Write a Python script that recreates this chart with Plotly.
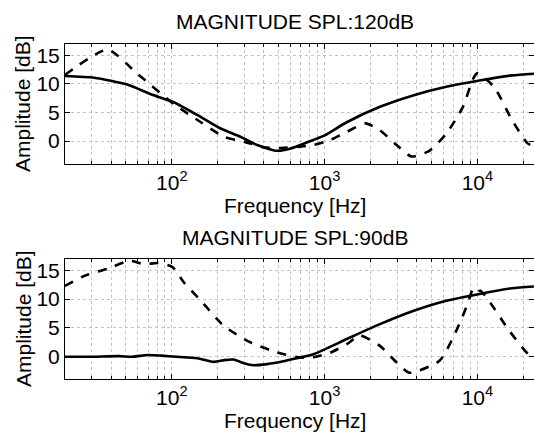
import numpy as np
import plotly.graph_objects as go
from plotly.subplots import make_subplots

# values (frequency in Hz, amplitude in dB)
f_top_solid = [20, 31, 51, 73, 103, 155, 209, 281, 362, 488, 600, 845, 1000, 1396, 2300, 3790, 6250, 10300, 16800, 23400]
a_top_solid = [11.4, 11.1, 9.9, 8.2, 6.8, 4.2, 2.2, 0.75, -0.7, -1.7, -1.3, 0.2, 1.0, 3.3, 6.0, 8.0, 9.5, 10.6, 11.5, 11.8]

f_top_dash = [20, 38, 60, 103, 155, 219, 296, 400, 513, 845, 1086, 1396, 1850, 2300, 2960, 3700, 4850, 6250, 8000, 9400, 10000, 12900, 16900, 21300, 23400]
a_top_dash = [11.6, 16.0, 11.7, 6.5, 3.3, 0.75, -0.1, -1.1, -1.2, -0.7, 0.2, 1.6, 3.1, 1.9, -0.7, -2.7, -1.7, 1.3, 5.9, 11.0, 11.9, 9.4, 3.6, -0.4, -0.9]

f_bot_solid = [20, 30, 45, 55, 70, 85, 120, 150, 188, 220, 254, 300, 343, 420, 537, 670, 845, 1396, 2300, 3790, 6250, 10300, 16800, 23400]
a_bot_solid = [-0.1, -0.1, 0.0, -0.1, 0.2, 0.1, -0.2, -0.4, -1.0, -0.7, -0.6, -1.3, -1.6, -1.4, -0.9, -0.3, 0.35, 3.0, 5.6, 7.9, 9.7, 10.9, 11.9, 12.2]

f_bot_dash = [20, 27, 38, 53, 66, 81, 101, 120, 155, 219, 327, 488, 670, 845, 1086, 1396, 1700, 2300, 2960, 3600, 5650, 7200, 8700, 9300, 9900, 10400, 12100, 16200, 21500, 23400]
a_bot_dash = [12.3, 14.1, 15.3, 16.7, 16.1, 16.3, 15.6, 12.9, 9.7, 5.3, 2.4, 0.65, -0.2, -0.2, 0.6, 2.1, 3.6, 1.8, -1.1, -2.9, -0.8, 4.2, 9.4, 11.6, 11.0, 11.5, 9.4, 4.4, 0.35, -0.1]

titles = ["MAGNITUDE SPL:120dB", "MAGNITUDE SPL:90dB"]
major_f = [100, 1000, 10000]
major_lbl = ["10<sup>2</sup>", "10<sup>3</sup>", "10<sup>4</sup>"]
minor_f = [m * 10 ** d for d in range(1, 5) for m in range(2, 10)]
y_ticks = [0, 5, 10, 15]

FONT = "Liberation Sans, Arial, Helvetica, sans-serif"
GRID = "#c4c4c4"
W, H = 534, 436
ML, MR, MT, MB = 65, 0, 44, 57
pw, ph = W - ML - MR, H - MT - MB

def px(x):
    return (x - ML) / pw

def py(y):
    return (H - MB - y) / ph

fig = make_subplots(rows=2, cols=1, vertical_spacing=0.284)

series = [
    (1, f_top_solid, a_top_solid, "solid"),
    (1, f_top_dash, a_top_dash, "dash"),
    (2, f_bot_solid, a_bot_solid, "solid"),
    (2, f_bot_dash, a_bot_dash, "dash"),
]
for row, f, a, dash in series:
    fig.add_trace(go.Scatter(
        x=f, y=a, mode="lines",
        line=dict(color="black", width=2.6, dash=dash, shape="spline", smoothing=0.6),
        showlegend=False), row=row, col=1)

for row in (1, 2):
    fig.update_xaxes(
        type="log", range=[np.log10(20), 4.37], automargin=False,
        tickvals=major_f, ticktext=major_lbl,
        ticks="inside", ticklen=5, tickcolor="black",
        showline=True, linecolor="black", linewidth=1, mirror="allticks",
        showgrid=True, gridcolor=GRID, griddash="dot", gridwidth=1,
        minor=dict(tickvals=minor_f, ticks="inside", ticklen=3, tickcolor="black",
                   showgrid=True, gridcolor=GRID, griddash="dot", gridwidth=1),
        zeroline=False, tickfont=dict(size=21, color="black", family=FONT),
        row=row, col=1)
    fig.update_yaxes(
        range=[-4, 17], tickvals=y_ticks, automargin=False,
        ticks="inside", ticklen=5, tickcolor="black",
        showline=True, linecolor="black", linewidth=1, mirror="allticks",
        showgrid=True, gridcolor=GRID, griddash="dot", gridwidth=1,
        zeroline=False, tickfont=dict(size=21, color="black", family=FONT),
        row=row, col=1)

annots = []
for i, top in enumerate([44, 259]):
    annots.append(dict(text=titles[i], x=px(295), y=py(top - 22), xref="paper", yref="paper",
                       showarrow=False, font=dict(size=21, color="black", family=FONT),
                       xanchor="center", yanchor="middle"))
    annots.append(dict(text="Frequency [Hz]", x=px(295), y=py(top + 161), xref="paper", yref="paper",
                       showarrow=False, font=dict(size=21, color="black", family=FONT),
                       xanchor="center", yanchor="middle"))
    annots.append(dict(text="Amplitude [dB]", x=px(23), y=py(top + 60), xref="paper", yref="paper",
                       showarrow=False, textangle=-90, font=dict(size=21, color="black", family=FONT),
                       xanchor="center", yanchor="middle"))

fig.update_layout(
    width=W, height=H,
    margin=dict(l=ML, r=MR, t=MT, b=MB, autoexpand=False),
    paper_bgcolor="white", plot_bgcolor="white",
    annotations=annots,
)

# page margin off so the figure sits at the window's corner
fig.write_html("out.html", config={"displayModeBar": False},
               post_script="document.body.style.margin='0';")
